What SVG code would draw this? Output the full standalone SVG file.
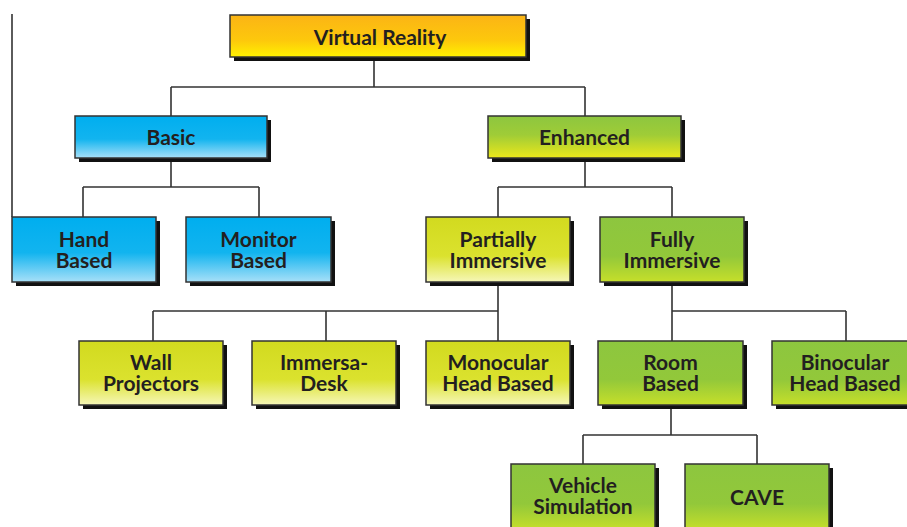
<svg xmlns="http://www.w3.org/2000/svg" width="907" height="527" viewBox="0 0 907 527">
<defs>
<linearGradient id="gOrange" x1="0" y1="0" x2="0" y2="1"><stop offset="0" stop-color="#fbb415"/><stop offset="0.6" stop-color="#fdc80c"/><stop offset="1" stop-color="#fff200"/></linearGradient>
<linearGradient id="gBlue" x1="0" y1="0" x2="0" y2="1"><stop offset="0" stop-color="#00aeef"/><stop offset="0.55" stop-color="#12b4ef"/><stop offset="1" stop-color="#a8e0f8"/></linearGradient>
<linearGradient id="gEnh" x1="0" y1="0" x2="0" y2="1"><stop offset="0" stop-color="#8dc63f"/><stop offset="0.45" stop-color="#9fcc37"/><stop offset="1" stop-color="#ece81a"/></linearGradient>
<linearGradient id="gYel" x1="0" y1="0" x2="0" y2="1"><stop offset="0" stop-color="#d2da1f"/><stop offset="0.6" stop-color="#dbe22e"/><stop offset="1" stop-color="#f6f7b8"/></linearGradient>
<linearGradient id="gGrn" x1="0" y1="0" x2="0" y2="1"><stop offset="0" stop-color="#8dc63f"/><stop offset="0.6" stop-color="#92c83a"/><stop offset="1" stop-color="#c6df2a"/></linearGradient>
</defs>
<style>
.sh{fill:#111;}
.bx{stroke:#333;stroke-width:1.5;}
.t{font-family:Lato,"Open Sans","Liberation Sans",sans-serif;font-weight:700;font-size:21px;fill:#231f20;text-anchor:middle;}
.c{fill:none;stroke:#333;stroke-width:1.6;}
</style>
<g id="connectors">
<path class="c" d="M12,14 V217"/>
<path class="c" d="M374,57 V87 M171,87 H585 M171,87 V116 M585,87 V116"/>
<path class="c" d="M171,158 V187 M83,187 H259 M83,187 V217 M259,187 V217"/>
<path class="c" d="M585,158 V187 M498,187 H672 M498,187 V217 M672,187 V217"/>
<path class="c" d="M498,282 V311 M153,311 H498 M153,311 V341 M326,311 V341 M498,311 V341"/>
<path class="c" d="M672,282 V311 H846 M672,311 V341 M846,311 V341"/>
<path class="c" d="M671,405 V435 M583,435 H757 M583,435 V464 M757,435 V464"/>
</g>
<g id="vr"><rect class="sh" x="234" y="19" width="296" height="42"/><rect class="bx" x="230" y="15" width="296" height="42" fill="url(#gOrange)"/><text class="t" x="380" y="45">Virtual Reality</text></g>
<g id="basic"><rect class="sh" x="79" y="120" width="192" height="42"/><rect class="bx" x="75" y="116" width="192" height="42" fill="url(#gBlue)"/><text class="t" x="171" y="145">Basic</text></g>
<g id="enhanced"><rect class="sh" x="492" y="120" width="193" height="42"/><rect class="bx" x="488" y="116" width="193" height="42" fill="url(#gEnh)"/><text class="t" x="584.5" y="145">Enhanced</text></g>
<g id="hand"><rect class="sh" x="16" y="221" width="144" height="65"/><rect class="bx" x="12" y="217" width="144" height="65" fill="url(#gBlue)"/><text class="t" x="84" y="247">Hand</text><text class="t" x="84" y="268">Based</text></g>
<g id="monitor"><rect class="sh" x="190" y="221" width="145" height="65"/><rect class="bx" x="186" y="217" width="145" height="65" fill="url(#gBlue)"/><text class="t" x="258.5" y="247">Monitor</text><text class="t" x="258.5" y="268">Based</text></g>
<g id="partially"><rect class="sh" x="430" y="221" width="144" height="65"/><rect class="bx" x="426" y="217" width="144" height="65" fill="url(#gYel)"/><text class="t" x="498" y="247">Partially</text><text class="t" x="498" y="268">Immersive</text></g>
<g id="fully"><rect class="sh" x="604" y="221" width="144" height="65"/><rect class="bx" x="600" y="217" width="144" height="65" fill="url(#gGrn)"/><text class="t" x="672" y="247">Fully</text><text class="t" x="672" y="268">Immersive</text></g>
<g id="wall"><rect class="sh" x="83" y="345" width="144" height="64"/><rect class="bx" x="79" y="341" width="144" height="64" fill="url(#gYel)"/><text class="t" x="151" y="370">Wall</text><text class="t" x="151" y="391">Projectors</text></g>
<g id="immersa"><rect class="sh" x="256" y="345" width="144" height="64"/><rect class="bx" x="252" y="341" width="144" height="64" fill="url(#gYel)"/><text class="t" x="324" y="370">Immersa-</text><text class="t" x="324" y="391">Desk</text></g>
<g id="monocular"><rect class="sh" x="430" y="345" width="144" height="64"/><rect class="bx" x="426" y="341" width="144" height="64" fill="url(#gYel)"/><text class="t" x="498" y="370">Monocular</text><text class="t" x="498" y="391">Head Based</text></g>
<g id="room"><rect class="sh" x="602" y="345" width="145" height="64"/><rect class="bx" x="598" y="341" width="145" height="64" fill="url(#gGrn)"/><text class="t" x="670.5" y="370">Room</text><text class="t" x="670.5" y="391">Based</text></g>
<g id="binocular"><rect class="sh" x="776" y="345" width="145" height="64"/><rect class="bx" x="772" y="341" width="145" height="64" fill="url(#gGrn)"/><text class="t" x="845" y="370">Binocular</text><text class="t" x="845" y="391">Head Based</text></g>
<g id="vehicle"><rect class="sh" x="515" y="468" width="144" height="66"/><rect class="bx" x="511" y="464" width="144" height="66" fill="url(#gGrn)"/><text class="t" x="583" y="493">Vehicle</text><text class="t" x="583" y="514">Simulation</text></g>
<g id="cave"><rect class="sh" x="689" y="468" width="144" height="66"/><rect class="bx" x="685" y="464" width="144" height="66" fill="url(#gGrn)"/><text class="t" x="757" y="505">CAVE</text></g>
</svg>
